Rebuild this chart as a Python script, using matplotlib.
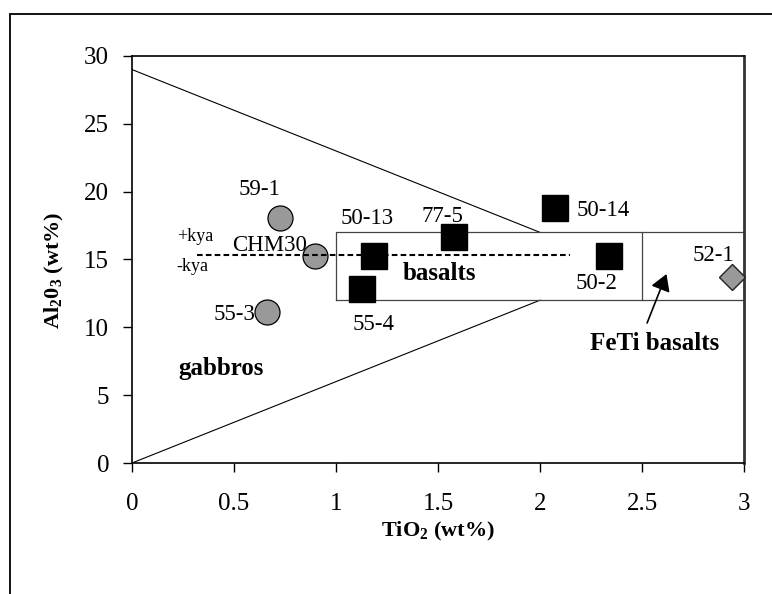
import numpy as np
import matplotlib
matplotlib.use('Agg')
from matplotlib import pyplot as plt
from matplotlib.patches import Rectangle

plt.rcParams['font.family'] = ['Liberation Serif', 'DejaVu Serif']
plt.rcParams['mathtext.fontset'] = 'custom'
plt.rcParams['mathtext.rm'] = 'Liberation Serif'
plt.rcParams['mathtext.bf'] = 'Liberation Serif:bold'

# samples (TiO2, Al2O3 in wt%)
gabbro_names = ['59-1', 'CHM30', '55-3']
gabbro_tio2 = [0.725, 0.897, 0.663]
gabbro_al2o3 = [18.05, 15.25, 11.15]

basalt_names = ['50-13', '55-4', '77-5', '50-14', '50-2']
basalt_tio2 = [1.186, 1.126, 1.578, 2.075, 2.338]
basalt_al2o3 = [15.25, 12.8, 16.63, 18.77, 15.25]

feti_names = ['52-1']
feti_tio2 = [2.943]
feti_al2o3 = [13.73]

# field boundaries
upper_x = [0, 2]
upper_y = [29, 17]
lower_x = [0, 2]
lower_y = [0, 12]
box_x = [1, 3, 3, 1, 1]
box_y = [12, 12, 17, 17, 12]
split_x = [2.5, 2.5]
split_y = [12, 17]
kya_x = [0.317, 2.147]
kya_y = [15.3, 15.3]

xticks = [0, 0.5, 1, 1.5, 2, 2.5, 3]
xticklabels = ['0', '0.5', '1', '1.5', '2', '2.5', '3']
yticks = [0, 5, 10, 15, 20, 25, 30]

fig = plt.figure(figsize=(7.72, 5.94), dpi=100)
ax = fig.add_axes([132/772, 1-463/594, (744-132)/772, (463-56)/594])

# outer frame (cut off at right and bottom)
fig.add_artist(Rectangle((10/772, -0.5), 2, 0.5 + (594-14)/594, transform=fig.transFigure,
                         fill=False, ec='black', lw=1.3))

ax.plot(upper_x, upper_y, color='black', lw=0.8, zorder=2)
ax.plot(lower_x, lower_y, color='black', lw=0.8, zorder=2)
ax.plot(box_x, box_y, color='#444444', lw=0.9, zorder=2)
ax.plot(split_x, split_y, color='#444444', lw=0.9, zorder=2)

ax.plot(gabbro_tio2, gabbro_al2o3, 'o', ms=18, mfc='#999999', mec='black', mew=0.9, ls='none', zorder=3)
ax.plot(basalt_tio2, basalt_al2o3, 's', ms=19, mfc='black', mec='black', ls='none', zorder=3)
ax.plot(feti_tio2, feti_al2o3, 'D', ms=13, mfc='#999999', mec='#222222', mew=1.0, ls='none',
        zorder=3, clip_on=False)

ax.plot(kya_x, kya_y, color='black', lw=1.5, dashes=(2.7, 1.55), zorder=4)

# sample labels
lab = dict(fontsize=16.5, va='baseline')
ax.text(0.627, 19.75, '59-1', ha='center', **lab)
ax.text(0.672, 15.65, 'CHM30', ha='center', **lab)
ax.text(0.604, 10.54, '55-3', ha='right', **lab)
ax.text(1.154, 17.61, '50-13', ha='center', **lab)
ax.text(1.186, 9.8, '55-4', ha='center', **lab)
ax.text(1.522, 17.78, '77-5', ha='center', **lab)
ax.text(2.180, 18.2, '50-14', ha='left', **lab)
ax.text(2.279, 12.8, '50-2', ha='center', **lab)
ax.text(2.848, 14.9, '52-1', ha='center', **lab)

ax.text(0.219, 16.36, '+kya', fontsize=13, ha='left', va='baseline')
ax.text(0.219, 14.17, '-kya', fontsize=13, ha='left', va='baseline')

ax.text(1.508, 13.49, 'basalts', fontsize=18, fontweight='bold', ha='center', va='baseline')
ax.text(0.435, 6.48, 'gabbros', fontsize=18, fontweight='bold', ha='center', va='baseline')
ax.text(2.564, 8.33, 'FeTi basalts', fontsize=18, fontweight='bold', ha='center', va='baseline')
ax.annotate('', xy=(2.62, 13.93), xytext=(2.525, 10.32),
            arrowprops=dict(arrowstyle='-|>,head_length=1.0,head_width=0.6', color='black', lw=1.2,
                            shrinkA=0, shrinkB=0))

ax.set_xlim(0, 3)
ax.set_ylim(0, 30)
ax.set_xticks(xticks)
ax.set_xticklabels(xticklabels)
ax.set_yticks(yticks)
ax.tick_params(direction='out', length=6.5, width=1, labelsize=18, color='black')
ax.tick_params(axis='x', pad=15)
ax.tick_params(axis='y', pad=10)
for s in ['left', 'bottom', 'top']:
    ax.spines[s].set_linewidth(1.2)
    ax.spines[s].set_color('black')
ax.spines['right'].set_linewidth(2)
ax.spines['right'].set_color('#333333')

fig.text(438/772, 1-531/594, r'$\mathbf{TiO_2}$ (wt%)', fontsize=16, fontweight='bold',
         ha='center', va='center')
fig.text(54/772, 1-270/594, r'$\mathbf{Al_20_3}$ (wt%)', fontsize=16, fontweight='bold',
         ha='center', va='center', rotation=90)

fig.savefig('out.png', dpi=100)
